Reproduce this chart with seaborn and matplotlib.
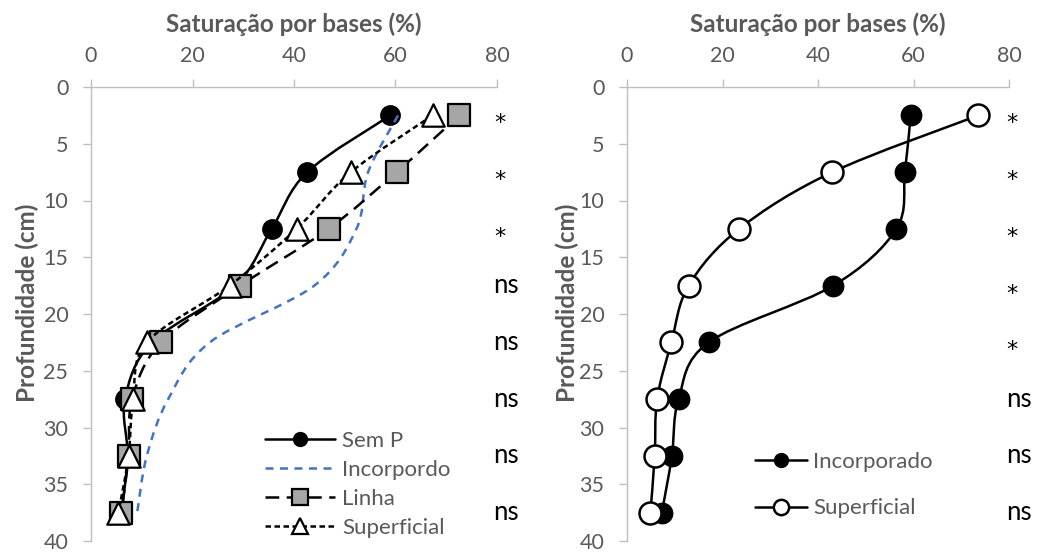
import numpy as np
import matplotlib
matplotlib.use("Agg")
import matplotlib.pyplot as plt
from matplotlib.path import Path
from matplotlib.patches import PathPatch
from matplotlib.lines import Line2D
import seaborn as sns
import pandas as pd

# ---------------- data ----------------
depth = [2.5, 7.5, 12.5, 17.5, 22.5, 27.5, 32.5, 37.5]

# left panel
sem_p = [59.0, 42.6, 35.6, 28.4, 12.0, 6.7, 7.2, 6.0]
incorpordo = [60.5, 54.6, 52.3, 44.0, 23.4, 15.2, 11.0, 9.1]
linha = [72.6, 60.2, 46.8, 29.4, 13.8, 8.1, 7.4, 6.0]
superficial_l = [67.3, 51.2, 40.5, 27.3, 11.0, 8.3, 7.4, 5.4]
signif_left = ["*", "*", "*", "ns", "ns", "ns", "ns", "ns"]

# right panel
incorporado_r = [59.4, 58.2, 56.4, 43.2, 17.1, 10.8, 9.4, 7.3]
superficial_r = [73.6, 43.0, 23.5, 12.9, 9.3, 6.3, 5.8, 4.9]
signif_right = ["*", "*", "*", "*", "*", "ns", "ns", "ns"]

xlabel = "Saturação por bases (%)"
ylabel = "Profundidade (cm)"
xticks = [0, 20, 40, 60, 80]
yticks = [0, 5, 10, 15, 20, 25, 30, 35, 40]

# ---------------- style ----------------
sns.set_theme(style="white")
FONT = ["Lato", "DejaVu Sans"]
plt.rcParams["font.family"] = FONT
GRAY_TXT = "#595959"
GRAY_AX = "#BFBFBF"
BLUE = "#4472C4"


def smooth_path(xs, ys):
    """Excel-like smoothed line: cubic Bezier through the data points."""
    P = np.column_stack([xs, ys]).astype(float)
    n = len(P)
    ext = np.vstack([P[0], P, P[-1]])
    verts = [tuple(P[0])]
    codes = [Path.MOVETO]
    for i in range(n - 1):
        p0, p1, p2, p3 = ext[i], ext[i + 1], ext[i + 2], ext[i + 3]
        c1 = p1 + (p2 - p0) / 6.0
        c2 = p2 - (p3 - p1) / 6.0
        verts += [tuple(c1), tuple(c2), tuple(p2)]
        codes += [Path.CURVE4] * 3
    return Path(verts, codes)


def add_line(ax, xs, ys, color, lw, ls, z):
    patch = PathPatch(smooth_path(xs, ys), facecolor="none", edgecolor=color,
                      lw=lw, linestyle=ls, zorder=z, capstyle="butt")
    ax.add_patch(patch)


def style_axes(ax, ylab_x):
    ax.set_xlim(0, 80)
    ax.set_ylim(40, 0)
    ax.set_xticks(xticks)
    ax.set_yticks(yticks)
    ax.xaxis.tick_top()
    ax.xaxis.set_label_position("top")
    for s in ["right", "bottom"]:
        ax.spines[s].set_visible(False)
    for s in ["top", "left"]:
        ax.spines[s].set_color(GRAY_AX)
        ax.spines[s].set_linewidth(1.0)
    ax.tick_params(axis="both", which="major", direction="out", length=5.8,
                   width=1.0, color=GRAY_AX, labelcolor=GRAY_TXT, labelsize=15.5)
    ax.tick_params(axis="x", top=True, bottom=False, pad=9.5)
    ax.tick_params(axis="y", left=True, pad=10.5)
    ax.set_xlabel(xlabel, fontsize=17.5, fontweight="bold", color=GRAY_TXT, labelpad=10)
    ax.set_ylabel(ylabel, fontsize=17.5, fontweight="bold", color=GRAY_TXT)
    ax.yaxis.set_label_coords(ylab_x, 0.524)
    ax.grid(False)
    ax.set_facecolor("white")


def add_signif(ax, labels):
    for d, s in zip(depth, labels):
        if s == "*":
            ax.text(79.4, d + 0.7, s, fontsize=16, color="black", family="DejaVu Sans",
                    ha="left", va="center", clip_on=False)
        else:
            ax.text(79.3, d, s, fontsize=18.5, color="black",
                    ha="left", va="center", clip_on=False)


fig = plt.figure(figsize=(10.4, 5.53), dpi=100)
ax1 = fig.add_axes([91 / 1040, 1 - 541 / 553, 406 / 1040, 454 / 553])
ax2 = fig.add_axes([627 / 1040, 1 - 541 / 553, 382 / 1040, 454 / 553])

# ---------------- left panel ----------------
LW = 1.8
DASH_BLUE = (0, (3.2, 2.6))
DASH_LONG = (0, (5.5, 3.0))
DASH_SHORT = (0, (2.2, 1.4))
dfl = pd.DataFrame({"depth": depth, "sem_p": sem_p, "inc": incorpordo,
                    "linha": linha, "sup": superficial_l})

add_line(ax1, dfl["sem_p"], dfl["depth"], "black", LW, "solid", 2)
sns.scatterplot(data=dfl, x="sem_p", y="depth", ax=ax1, marker="o", s=190,
                color="black", edgecolor="black", linewidth=1.2, zorder=3, legend=False)
add_line(ax1, dfl["inc"], dfl["depth"], BLUE, LW, DASH_BLUE, 4)
add_line(ax1, dfl["linha"], dfl["depth"], "black", LW, DASH_LONG, 5)
sns.scatterplot(data=dfl, x="linha", y="depth", ax=ax1, marker="s", s=230,
                color="#A6A6A6", edgecolor="black", linewidth=1.6, zorder=6, legend=False)
add_line(ax1, dfl["sup"], dfl["depth"], "black", LW, DASH_SHORT, 7)
sns.scatterplot(data=dfl, x="sup", y="depth", ax=ax1, marker="^", s=260,
                color="white", edgecolor="black", linewidth=1.6, zorder=8, legend=False)

style_axes(ax1, -0.128)
add_signif(ax1, signif_left)

handles1 = [
    Line2D([], [], color="black", lw=LW, marker="o", markersize=10,
           markerfacecolor="black", markeredgecolor="black"),
    Line2D([], [], color=BLUE, lw=LW, linestyle=DASH_BLUE),
    Line2D([], [], color="black", lw=LW, linestyle=DASH_LONG, marker="s",
           markersize=11, markerfacecolor="#A6A6A6", markeredgecolor="black", markeredgewidth=1.6),
    Line2D([], [], color="black", lw=LW, linestyle=DASH_SHORT, marker="^",
           markersize=11, markerfacecolor="white", markeredgecolor="black", markeredgewidth=1.6),
]
leg1 = ax1.legend(handles1, ["Sem P", "Incorpordo", "Linha", "Superficial"],
                  loc="lower left", bbox_to_anchor=(0.4286, 0.0077), frameon=False,
                  fontsize=16, handlelength=3.15, handletextpad=0.31, labelspacing=0.40,
                  borderaxespad=0, borderpad=0)
for t in leg1.get_texts():
    t.set_color(GRAY_TXT)

# ---------------- right panel ----------------
dfr = pd.DataFrame({"depth": depth, "inc": incorporado_r, "sup": superficial_r})
add_line(ax2, dfr["inc"], dfr["depth"], "black", LW, "solid", 2)
sns.scatterplot(data=dfr, x="inc", y="depth", ax=ax2, marker="o", s=210,
                color="black", edgecolor="black", linewidth=1.2, zorder=3, legend=False)
add_line(ax2, dfr["sup"], dfr["depth"], "black", LW, "solid", 4)
sns.scatterplot(data=dfr, x="sup", y="depth", ax=ax2, marker="o", s=250,
                color="white", edgecolor="black", linewidth=1.8, zorder=5, legend=False)

style_axes(ax2, -0.125)
add_signif(ax2, signif_right)

handles2 = [
    Line2D([], [], color="black", lw=LW, marker="o", markersize=10,
           markerfacecolor="black", markeredgecolor="black"),
    Line2D([], [], color="black", lw=LW, marker="o", markersize=11,
           markerfacecolor="white", markeredgecolor="black", markeredgewidth=1.8),
]
leg2 = ax2.legend(handles2, ["Incorporado", "Superficial"],
                  loc="lower left", bbox_to_anchor=(0.335, 0.0496), frameon=False,
                  fontsize=16, handlelength=2.34, handletextpad=0.27, labelspacing=1.21,
                  borderaxespad=0, borderpad=0)
for t in leg2.get_texts():
    t.set_color(GRAY_TXT)

fig.savefig("out.png", dpi=100, facecolor="white")
